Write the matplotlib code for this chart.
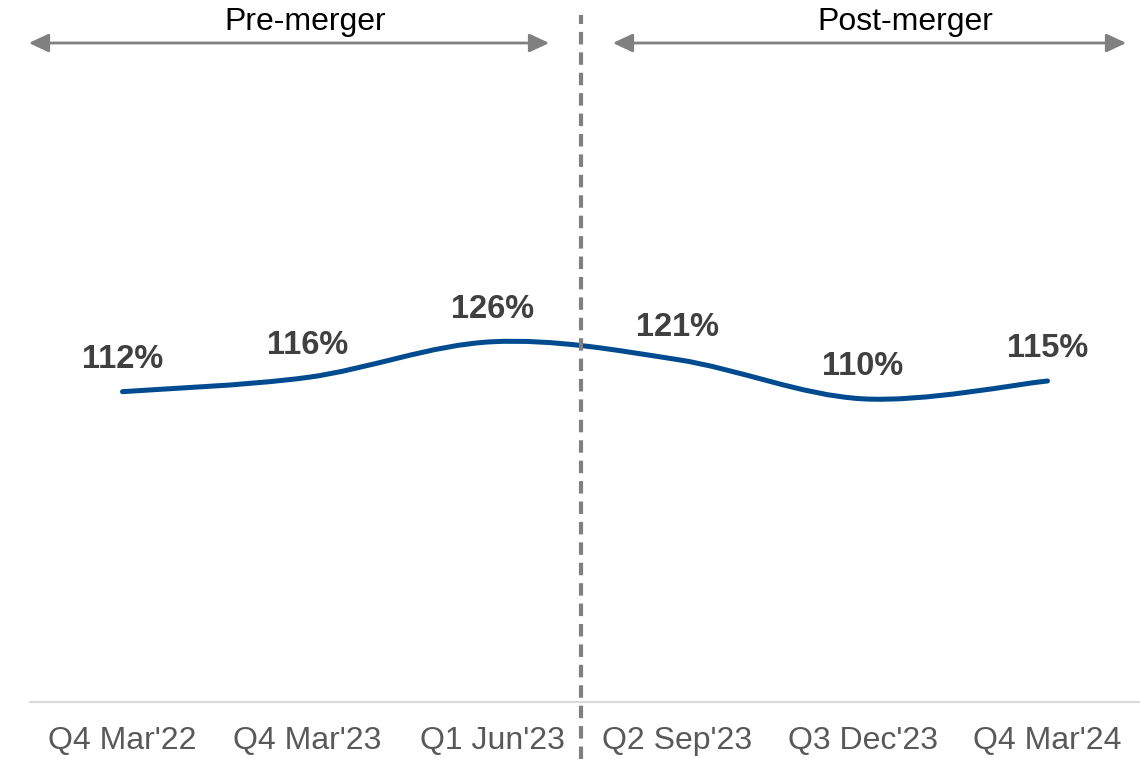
import numpy as np
import matplotlib
matplotlib.use("Agg")
import matplotlib.pyplot as plt
from matplotlib.path import Path
from matplotlib.patches import PathPatch, FancyArrowPatch

plt.rcParams['font.family'] = ['Liberation Sans', 'DejaVu Sans']

# Data
quarters = ["Q4 Mar'22", "Q4 Mar'23", "Q1 Jun'23", "Q2 Sep'23", "Q3 Dec'23", "Q4 Mar'24"]
ratio = [112, 116, 126, 121, 110, 115]
labels = ["112%", "116%", "126%", "121%", "110%", "115%"]
periods = ["Pre-merger", "Post-merger"]

LINE_BLUE = '#004a8f'
GREY = '#808080'
W, H = 1140, 759


def smooth_path(xs, ys):
    # Excel-style smoothed line: cubic Bezier between each pair of points
    pts = np.column_stack([xs, ys]).astype(float)
    n = len(pts)
    verts = [pts[0]]
    codes = [Path.MOVETO]
    for i in range(n - 1):
        p0 = pts[i - 1] if i > 0 else pts[i]
        p1 = pts[i]
        p2 = pts[i + 1]
        p3 = pts[i + 2] if i + 2 < n else pts[i + 1]
        c1 = p1 + (p2 - p0) / 6.0
        c2 = p2 - (p3 - p1) / 6.0
        verts += [c1, c2, p2]
        codes += [Path.CURVE4] * 3
    return Path(verts, codes)


fig = plt.figure(figsize=(W / 100, H / 100), dpi=100)
ax = fig.add_axes([30 / W, 57 / H, 1110 / W, 560 / H])

x = np.arange(len(quarters))
ax.add_patch(PathPatch(smooth_path(x, ratio), facecolor='none', edgecolor=LINE_BLUE,
                       lw=3.6, capstyle='round', zorder=3))

for xi, v, lab in zip(x, ratio, labels):
    ax.annotate(lab, (xi, v), xytext=(0, 17), textcoords='offset points',
                ha='center', va='baseline', fontsize=23.5, fontweight='bold', color='#404040')

ax.set_xlim(-0.5, len(quarters) - 0.5)
ax.set_ylim(25, 182)
ax.set_xticks(x)
ax.set_xticklabels(quarters, fontsize=23, color='#595959')
ax.tick_params(axis='x', length=0, pad=17)
ax.set_yticks([])
for s in ['top', 'left', 'right']:
    ax.spines[s].set_visible(False)
ax.spines['bottom'].set_color('#d9d9d9')
ax.spines['bottom'].set_linewidth(1.5)

# merger divider
div_fx = 581 / W
fig.add_artist(plt.Line2D([div_fx, div_fx], [0, 744 / H], color=GREY, lw=3,
                          linestyle=(0, (3.0, 1.9)), zorder=5))

# period arrows
arrow_y = (H - 43) / H
spans = [(26, 552), (610, 1129)]
text_x = [305, 905]
for (x0, x1), tx, name in zip(spans, text_x, periods):
    fig.add_artist(FancyArrowPatch(
        (x0 / W, arrow_y), (x1 / W, arrow_y), transform=fig.transFigure,
        arrowstyle='<|-|>,head_length=0.6,head_width=0.28', mutation_scale=20,
        color=GREY, lw=2))
    fig.text(tx / W, (H - 22) / H, name, ha='center', va='center',
             fontsize=23, color='black')

fig.savefig('out.png', dpi=100)
